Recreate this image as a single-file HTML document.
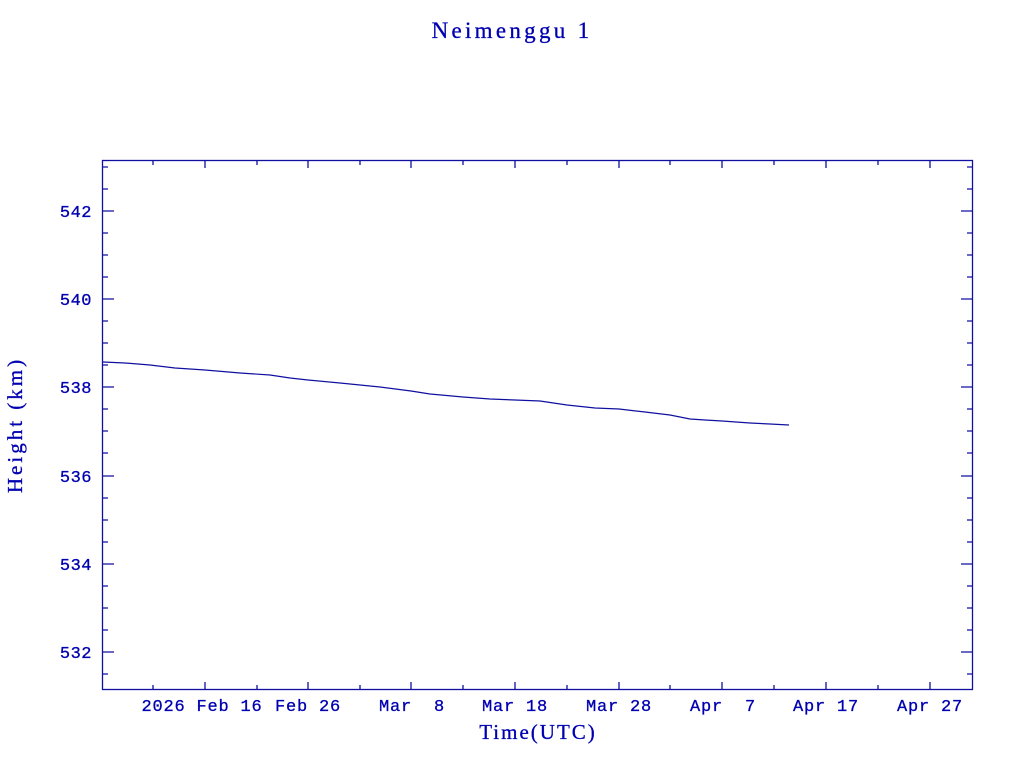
<!DOCTYPE html>
<html><head><meta charset="utf-8"><style>body{margin:0;background:#fff} text{white-space:pre}</style></head><body>
<svg width="1024" height="768" xmlns="http://www.w3.org/2000/svg">
<rect width="1024" height="768" fill="#fff"/>
<g fill="#0000b0" font-family="Liberation Serif, serif" stroke="#0000b0" stroke-width="0.3">
<text x="512" y="38" font-size="23" text-anchor="middle" letter-spacing="3.3">Neimenggu 1</text>
<text x="538" y="739" font-size="21" text-anchor="middle" letter-spacing="2">Time(UTC)</text>
<text transform="translate(22,425) rotate(-90)" font-size="21" text-anchor="middle" letter-spacing="3">Height (km)</text>
</g>
<g fill="#0000b0" font-family="Liberation Mono, monospace" font-size="17" text-anchor="end" stroke="#0000b0" stroke-width="0.3" letter-spacing="0.5">
<text x="92" y="217">542</text><text x="92" y="305">540</text><text x="92" y="393">538</text>
<text x="92" y="482">536</text><text x="92" y="570">534</text><text x="92" y="658">532</text>
</g>
<g fill="#0000b0" font-family="Liberation Mono, monospace" font-size="17" text-anchor="middle" stroke="#0000b0" stroke-width="0.3" letter-spacing="0.8">
<text x="202" y="711">2026 Feb 16</text><text x="308" y="711">Feb 26</text>
<text x="412" y="711">Mar  8</text><text x="515" y="711">Mar 18</text>
<text x="619" y="711">Mar 28</text><text x="723" y="711">Apr  7</text>
<text x="826" y="711">Apr 17</text><text x="930" y="711">Apr 27</text>
</g>
<g stroke="#1010a0" stroke-width="1.3" fill="none">
<rect x="102.5" y="160.5" width="870" height="529"/>
<path d="
M205,690v-8M308,690v-8M411,690v-8M515,690v-8M619,690v-8M722,690v-8M826,690v-8M930,690v-8
M153,690v-5M257,690v-5M360,690v-5M463,690v-5M567,690v-5M670,690v-5M774,690v-5M878,690v-5
M205,160v8M308,160v8M411,160v8M515,160v8M619,160v8M722,160v8M826,160v8M930,160v8
M153,160v5M257,160v5M360,160v5M463,160v5M567,160v5M670,160v5M774,160v5M878,160v5
M102,211h12M102,299h12M102,387h12M102,476h12M102,564h12M102,652h12
M973,211h-12M973,299h-12M973,387h-12M973,476h-12M973,564h-12M973,652h-12
M102,167h6M102,189h6M102,233h6M102,255h6M102,277h6M102,321h6M102,343h6M102,365h6M102,409h6M102,431h6M102,453h6M102,498h6M102,520h6M102,542h6M102,586h6M102,608h6M102,630h6M102,674h6
M973,167h-6M973,189h-6M973,233h-6M973,255h-6M973,277h-6M973,321h-6M973,343h-6M973,365h-6M973,409h-6M973,431h-6M973,453h-6M973,498h-6M973,520h-6M973,542h-6M973,586h-6M973,608h-6M973,630h-6M973,674h-6"/>
<polyline stroke-width="1.2" points="103,362 125,363 150,365 175,368 205,370 240,373 270,375 290,378 308,380 340,383 380,387 411,391 430,394 463,397 490,399 515,400 540,401 567,405 595,408 619,409 645,412 670,415 690,419 705,420 722,421 750,423 770,424 789,425"/>
</g>
</svg>
</body></html>
